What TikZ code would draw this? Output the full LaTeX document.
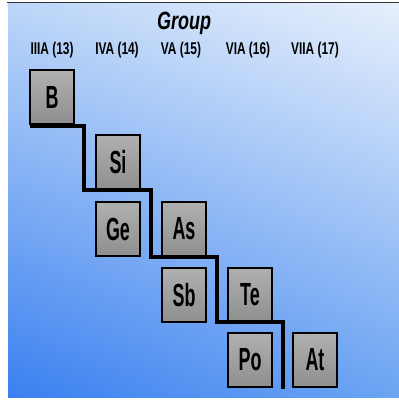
\documentclass[tikz,border=0pt]{standalone}
\usepackage{fontspec}
\usetikzlibrary{shadings}
\newfontfamily\condfont[FakeStretch=0.56]{Liberation Sans Bold}
\newfontfamily\headfont[FakeStretch=0.7]{Liberation Sans Bold}
\newfontfamily\titlefont[FakeStretch=0.72]{Liberation Sans Bold Italic}
\definecolor{bgUL}{HTML}{BCD6F8}
\definecolor{bgUR}{HTML}{E6EFFC}
\definecolor{bgLL}{HTML}{3A80F0}
\definecolor{bgLR}{HTML}{6CA4F2}
\tikzset{
  elem/.style={draw=black,line width=1.1pt,minimum width=44pt,minimum height=54pt,
    inner sep=0pt,top color=gray!62,bottom color=gray!88,
    font=\condfont\fontsize{32}{32}\selectfont},
  grouplabel/.style={font=\headfont\fontsize{17}{17}\selectfont,inner sep=0pt},
  boundary/.style={line width=3.5pt,line join=miter}
}
\begin{document}
\begin{tikzpicture}[x=1pt,y=-1pt]
    \useasboundingbox (0,0) rectangle (399,400);
    \shade[upper left=bgUL,upper right=bgUR,lower left=bgLL,lower right=bgLR] (8,3) rectangle (399,397);
    \draw[black!80,line width=1.5pt] (7,2.5) -- (399,2.5);
    % titolo e gruppi
    \node[font=\titlefont\fontsize{25}{25}\selectfont] (title) at (184,23) {Group};
    \node[grouplabel] (g13) at (52,50)  {IIIA (13)};
    \node[grouplabel] (g14) at (117,50) {IVA (14)};
    \node[grouplabel] (g15) at (181,50) {VA (15)};
    \node[grouplabel] (g16) at (248,50) {VIA (16)};
    \node[grouplabel] (g17) at (315,50) {VIIA (17)};
    % elementi
    \foreach \s/\x/\y in {B/52/97,Si/118/162,Ge/118/229,As/184/229,Sb/184/295,Te/250/295,Po/250/360,At/315/360}
      \node[elem] (el-\s) at (\x,\y) {\s};
    % linea a gradini metalli / non metalli
    \draw[boundary] (30,126) -- (84,126) -- (84,190) -- (151,190) -- (151,257)
      -- (217,257) -- (217,322) -- (283,322) -- (283,389);
\end{tikzpicture}
\end{document}
